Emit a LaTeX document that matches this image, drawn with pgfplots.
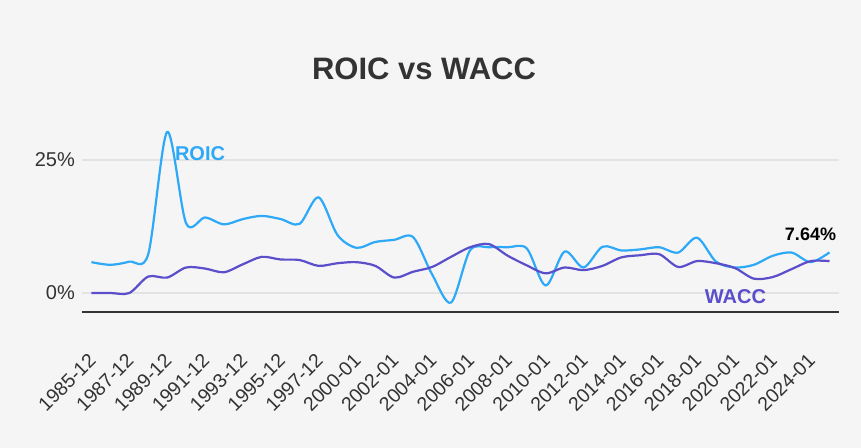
\documentclass[border=0pt]{standalone}
\usepackage{pgfplots}
\usepackage{pgfplotstable}
\pgfplotsset{compat=1.18}
\usepackage{fontspec}
\setmainfont{Liberation Sans}
\definecolor{bgcol}{HTML}{F5F5F5}
\definecolor{roic}{HTML}{2EA9F7}
\definecolor{wacc}{HTML}{5A4ECB}
\definecolor{txt}{HTML}{333333}
\definecolor{gridc}{HTML}{E3E3E3}

\pgfplotstableread{
idx roic wacc
0 5.8 0
1 5.3 0
2 5.9 0
3 7.3 3.1
4 30.3 2.9
5 13.1 4.8
6 14.2 4.6
7 12.9 3.9
8 13.9 5.4
9 14.5 6.8
10 13.9 6.3
11 13.0 6.2
12 18.0 5.1
13 10.9 5.6
14 8.5 5.8
15 9.6 5.1
16 10.0 2.9
17 10.5 4.0
18 3.5 4.9
19 -1.8 6.8
20 8.0 8.6
21 8.6 9.2
22 8.6 7.0
23 8.4 5.2
24 1.4 3.7
25 7.8 4.8
26 4.8 4.3
27 8.7 5.1
28 8.0 6.7
29 8.2 7.1
30 8.6 7.3
31 7.6 4.9
32 10.4 6.0
33 5.9 5.6
34 4.8 4.7
35 5.3 2.7
36 7.0 3.0
37 7.6 4.5
38 5.8 6.0
39 7.64 6.0
}\datatable

\begin{document}
\begin{tikzpicture}
\fill[bgcol] (0,0) rectangle (861bp,448bp);
\begin{axis}[
  at={(82bp,136bp)}, anchor=south west,
  scale only axis, width=757bp, height=189.2bp,
  xmin=-0.5, xmax=39.5, ymin=-3.57, ymax=32,
  axis line style={draw=none},
  tick style={draw=none},
  major tick length=0pt,
  ymajorgrids, grid style={gridc, line width=2bp},
  xtick={0,2,...,38},
  xticklabels={1985-12,1987-12,1989-12,1991-12,1993-12,1995-12,1997-12,2000-01,2002-01,2004-01,2006-01,2008-01,2010-01,2012-01,2014-01,2016-01,2018-01,2020-01,2022-01,2024-01},
  xticklabel style={yshift=-45bp, xshift=1bp, rotate=45, anchor=east, inner sep=0pt, font=\fontsize{19.5bp}{21bp}\selectfont, text=txt},
  ytick={0,25},
  yticklabels={0\%,25\%},
  yticklabel style={anchor=east, inner sep=0pt, xshift=-7bp, font=\fontsize{20bp}{22bp}\selectfont, text=txt},
  clip=false,
]
\addplot[roic, line width=2.2bp, smooth, tension=0.5, line join=round] table[x=idx, y=roic] {\datatable};
\addplot[wacc, line width=2.2bp, smooth, tension=0.5, line join=round] table[x=idx, y=wacc] {\datatable};
\draw[txt, line width=2.3bp] (rel axis cs:0,0) -- (rel axis cs:1,0);
\end{axis}
\node[anchor=base, font=\fontsize{31bp}{36bp}\selectfont\bfseries, text=txt] at (424bp,368bp) {ROIC vs WACC};
\node[font=\fontsize{20bp}{22bp}\selectfont\bfseries, text=roic] at (200bp,294bp) {ROIC};
\node[font=\fontsize{20bp}{22bp}\selectfont\bfseries, text=wacc] at (735.5bp,151bp) {WACC};
\node[font=\fontsize{18bp}{20bp}\selectfont\bfseries, text=black] at (810.5bp,214bp) {7.64\%};
\pgfresetboundingbox
\path[use as bounding box] (0,0) rectangle (861bp,448bp);
\end{tikzpicture}
\end{document}
